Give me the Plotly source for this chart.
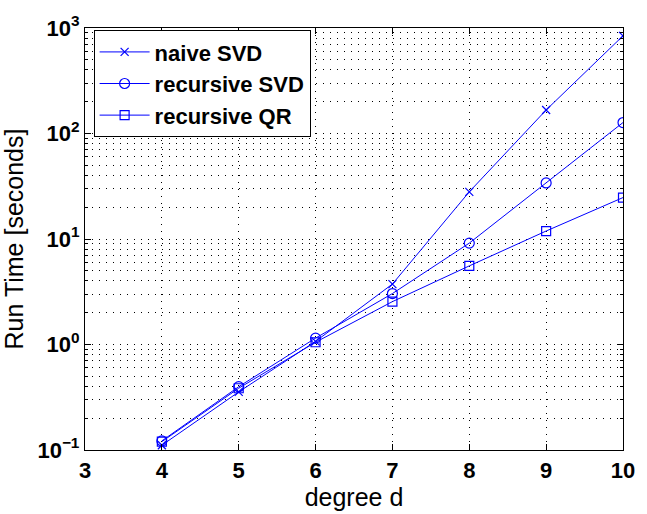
import plotly.graph_objects as go

degree = [4, 5, 6, 7, 8, 9, 10]
naive_svd = [0.111, 0.355, 1.07, 3.74, 28.0, 167.0, 843.0]
recursive_svd = [0.122, 0.398, 1.15, 3.04, 9.14, 34.0, 127.0]
recursive_qr = [0.12, 0.385, 1.05, 2.55, 5.56, 11.9, 24.7]

x_ticks = [3, 4, 5, 6, 7, 8, 9, 10]
y_ticks = [0.1, 1, 10, 100, 1000]
y_tick_text = ["10<sup>−1</sup>", "10<sup>0</sup>", "10<sup>1</sup>", "10<sup>2</sup>", "10<sup>3</sup>"]

blue = "rgb(0,0,255)"
fig = go.Figure()
series = [
    ("naive SVD", naive_svd, "x-thin-open", 8),
    ("recursive SVD", recursive_svd, "circle-open", 10),
    ("recursive QR", recursive_qr, "square-open", 9),
]
for name, vals, sym, sz in series:
    fig.add_trace(go.Scatter(
        x=degree, y=vals, name=name, mode="lines+markers",
        line=dict(color=blue, width=1),
        marker=dict(symbol=sym, size=sz, color=blue, line=dict(color=blue, width=1.2)),
    ))

font_family = "Liberation Sans, Arial, sans-serif"
grid_dash = "1px,6px"

fig.update_layout(
    width=647, height=514,
    margin=dict(l=83, r=14, t=19, b=62),
    paper_bgcolor="white", plot_bgcolor="white",
    font=dict(family=font_family, color="black"),
    showlegend=True,
    legend=dict(
        x=0.016, y=0.995, xanchor="left", yanchor="top",
        bgcolor="white", bordercolor="black", borderwidth=1,
        font=dict(size=22, family=font_family, weight="bold"),
        itemwidth=50, tracegroupgap=0,
    ),
    xaxis=dict(
        range=[3, 10], tickvals=x_ticks, ticktext=[str(v) for v in x_ticks],
        tickfont=dict(size=22, weight="bold"),
        title=dict(text="degree d", font=dict(size=25), standoff=2),
        showline=True, linecolor="black", linewidth=1.3, mirror="ticks",
        ticks="inside", ticklen=6, tickcolor="black",
        showgrid=True, gridcolor="black", gridwidth=1, griddash=grid_dash,
        zeroline=False,
    ),
    yaxis=dict(
        type="log", range=[-1, 3], tickvals=y_ticks, ticktext=y_tick_text,
        tickfont=dict(size=22, weight="bold"),
        title=dict(text="Run Time [seconds]", font=dict(size=25), standoff=8),
        showline=True, linecolor="black", linewidth=1.3, mirror="ticks",
        ticks="inside", ticklen=6, tickcolor="black",
        showgrid=True, gridcolor="black", gridwidth=1, griddash=grid_dash,
        minor=dict(ticks="inside", ticklen=3, tickcolor="black",
                   showgrid=True, gridcolor="black", gridwidth=1, griddash=grid_dash,
                   dtick="D1"),
        zeroline=False,
    ),
)

fig.write_html("out.html")
